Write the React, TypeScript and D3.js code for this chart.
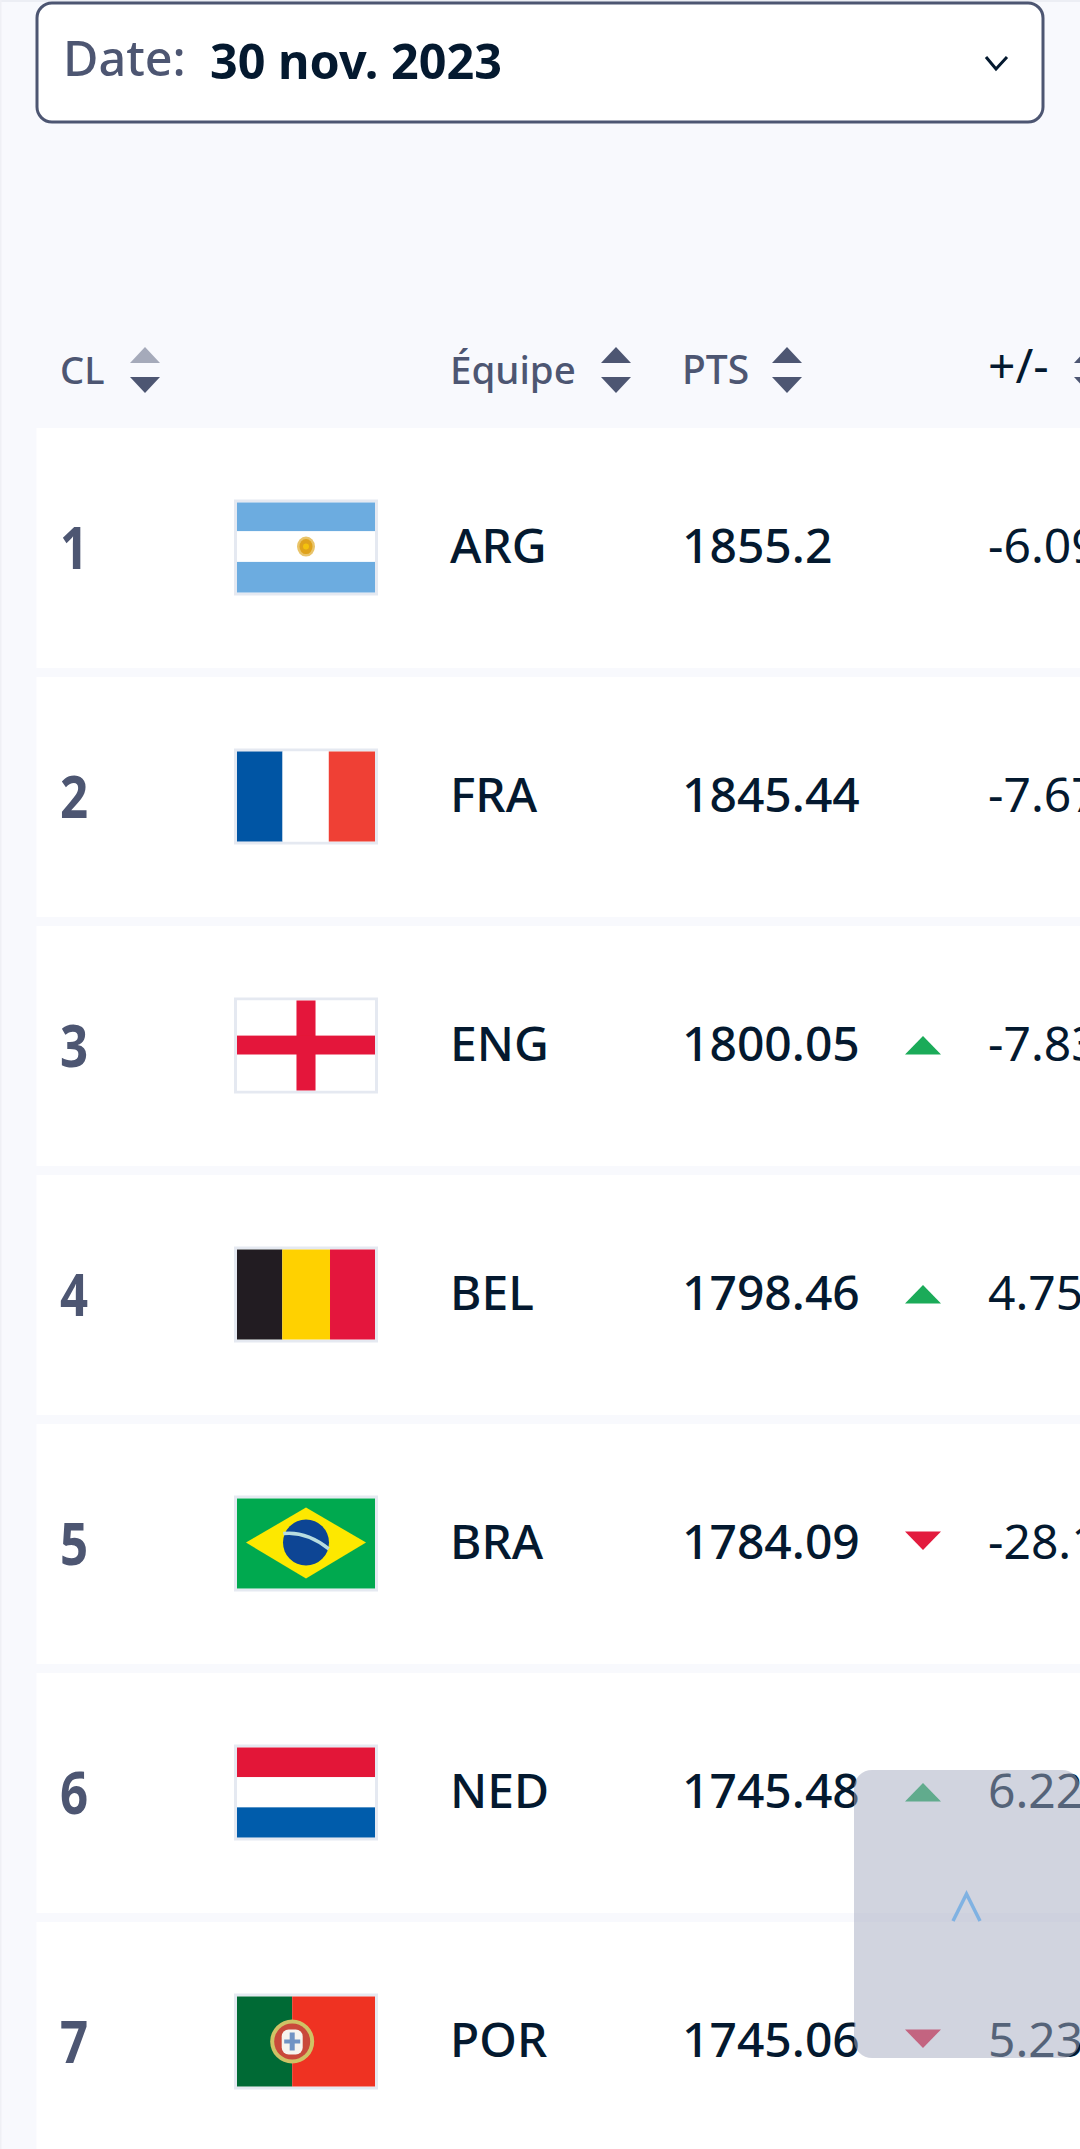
import * as d3 from 'd3';
import * as React from 'react';

const ranks = ['1', '2', '3', '4', '5', '6', '7'];
const teams = ['ARG', 'FRA', 'ENG', 'BEL', 'BRA', 'NED', 'POR'];
const points = ['1855.2', '1845.44', '1800.05', '1798.46', '1784.09', '1745.48', '1745.06'];
const trends = [0, 0, 1, 1, -1, 1, -1];
const deltas = ['-6.09', '-7.67', '-7.83', '4.75', '-28.1', '6.22', '5.23'];
const dateLabel = 'Date:';
const dateValue = '30 nov. 2023';

const WIDTH = 1080;
const HEIGHT = 2149;
const FONT = '"Noto Sans", "Open Sans", sans-serif';
const INK = '#04192f';
const SLATE = '#4d5672';
const UP = '#1bab59';
const DOWN = '#e31b3e';

const rowScale = d3
  .scaleBand<string>()
  .domain(ranks)
  .range([428, 428 + 249 * ranks.length - 9])
  .paddingInner(9 / 249)
  .paddingOuter(0)
  .align(0);

const triangle = d3.line<[number, number]>().curve(d3.curveLinearClosed);
const chevron = d3.line<[number, number]>();

const FLAG_W = 138;
const FLAG_H = 90;
const fx = d3.scaleLinear().domain([0, 1]).range([0, FLAG_W]);
const fy = d3.scaleLinear().domain([0, 1]).range([0, FLAG_H]);

const bars = (colors: string[], stops: number[]) =>
  colors.map((c, i) => (
    <rect key={i} x={fx(stops[i])} y={0} width={fx(stops[i + 1]) - fx(stops[i])} height={FLAG_H} fill={c} />
  ));

const bands = (colors: string[], stops: number[]) =>
  colors.map((c, i) => (
    <rect key={i} x={0} y={fy(stops[i])} width={FLAG_W} height={fy(stops[i + 1]) - fy(stops[i])} fill={c} />
  ));

const Flag: React.FC<{ team: string }> = ({ team }) => {
  switch (team) {
    case 'ARG':
      return (
        <g>
          {bands(['#6cace0', '#ffffff', '#6cace0'], [0, 0.32, 0.66, 1])}
          <ellipse cx={fx(0.5)} cy={fy(0.49)} rx={9} ry={10} fill="#e9c46a" />
          <ellipse cx={fx(0.5)} cy={fy(0.49)} rx={6.5} ry={7.5} fill="#dfa21c" />
          <circle cx={fx(0.5)} cy={fy(0.49)} r={3} fill="#f4c20d" />
        </g>
      );
    case 'FRA':
      return <g>{bars(['#0055a4', '#ffffff', '#ef4135'], [0, 0.33, 0.665, 1])}</g>;
    case 'ENG':
      return (
        <g>
          <rect width={FLAG_W} height={FLAG_H} fill="#ffffff" />
          <rect x={fx(0.431)} y={0} width={fx(0.138)} height={FLAG_H} fill="#e4173a" />
          <rect x={0} y={fy(0.39)} width={FLAG_W} height={fy(0.21)} fill="#e4173a" />
        </g>
      );
    case 'BEL':
      return <g>{bars(['#231f20', '#ffd100', '#e4183c'], [0, 0.328, 0.674, 1])}</g>;
    case 'BRA':
      return (
        <g>
          <rect width={FLAG_W} height={FLAG_H} fill="#04a950" />
          <polygon
            points={[
              [fx(0.065), fy(0.49)],
              [fx(0.5), fy(0.1)],
              [fx(0.935), fy(0.49)],
              [fx(0.5), fy(0.89)],
            ].join(' ')}
            fill="#fde800"
          />
          <circle cx={fx(0.5)} cy={fy(0.49)} r={23} fill="#0c4494" />
          <path
            d={`M${fx(0.335)},${fy(0.39)}Q${fx(0.5)},${fy(0.36)} ${fx(0.665)},${fy(0.56)}`}
            fill="none"
            stroke="#b8dde0"
            strokeWidth={3.5}
          />
        </g>
      );
    case 'NED':
      return <g>{bands(['#e31837', '#ffffff', '#005bab'], [0, 0.33, 0.665, 1])}</g>;
    default:
      return (
        <g>
          {bars(['#006a35', '#ef3020'], [0, 0.4, 1])}
          <circle cx={fx(0.4)} cy={fy(0.5)} r={22} fill="#cfc265" />
          <circle cx={fx(0.4)} cy={fy(0.5)} r={18} fill="#c9483a" />
          <rect x={fx(0.4) - 10.5} y={fy(0.5) - 12} width={21} height={25} rx={7} fill="#f6f4ef" />
          <rect x={fx(0.4) - 8} y={fy(0.5) - 2} width={16} height={4} fill="#6f93c4" />
          <rect x={fx(0.4) - 2.5} y={fy(0.5) - 9} width={5} height={18} fill="#6f93c4" />
        </g>
      );
  }
};

const SortIcon: React.FC<{ x: number; dimUp?: boolean }> = ({ x, dimUp }) => (
  <g>
    <path
      d={triangle([[x - 15, 363], [x + 15, 363], [x, 347]])!}
      fill={dimUp ? '#a5aaba' : SLATE}
    />
    <path d={triangle([[x - 15, 377], [x + 15, 377], [x, 393]])!} fill={SLATE} />
  </g>
);

export default function App() {
  return (
    <svg
      width={WIDTH}
      height={HEIGHT}
      viewBox={`0 0 ${WIDTH} ${HEIGHT}`}
      style={{ position: 'absolute', left: 0, top: 0, display: 'block' }}
      fontFamily={FONT}
    >
      <defs>
        <filter id="soft" x="-5%" y="-5%" width="110%" height="110%">
          <feGaussianBlur stdDeviation={0.6} />
        </filter>
      </defs>
      <rect width={WIDTH} height={HEIGHT} fill="#f8f9fd" />
      <rect width={WIDTH} height={2} fill="#eceef4" />
      <rect width={1.5} height={HEIGHT} fill="#eff0f5" />

      {/* date select */}
      <rect x={37} y={3} width={1006} height={119} rx={15} fill="#ffffff" stroke={SLATE} strokeWidth={3} />
      <text x={63} y={76} fontSize={48.5} fill={SLATE} fontWeight={500}>
        {dateLabel}
      </text>
      <text x={210} y={79} fontSize={48.5} fill={INK} fontWeight={700}>
        {dateValue}
      </text>
      <path d={chevron([[986, 57], [996, 69], [1007, 57]])!} fill="none" stroke={INK} strokeWidth={3} />

      {/* header */}
      <text x={60} y={384} fontSize={38} fontWeight={500} fill={SLATE}>CL</text>
      <SortIcon x={145} dimUp />
      <text x={450} y={384} fontSize={38.5} fontWeight={500} fill={SLATE}>Équipe</text>
      <SortIcon x={616} />
      <text x={682} y={384} fontSize={39} fontWeight={500} fill={SLATE}>PTS</text>
      <SortIcon x={787} />
      <text x={988} y={383} fontSize={48} fill={INK}>+/-</text>
      <SortIcon x={1089} />

      {/* rows */}
      {ranks.map((rank, i) => {
        const top = rowScale(rank)!;
        const cy = top + rowScale.bandwidth() / 2;
        const t = trends[i];
        return (
          <g key={rank}>
            <rect x={36.5} y={top} width={WIDTH - 36.5} height={i === ranks.length - 1 ? HEIGHT - top : rowScale.bandwidth()} fill="#ffffff" />
            <text
              transform={`translate(60,${cy + 21}) scale(0.82,1)`}
              fontSize={60}
              fontWeight={700}
              fill={SLATE}
            >
              {rank}
            </text>
            <rect x={235.5} y={cy - 47} width={141} height={93} fill="none" stroke="#e5e9f1" strokeWidth={3} />
            <g transform={`translate(237,${cy - 45.5})`} filter="url(#soft)">
              <Flag team={teams[i]} />
            </g>
            <text x={450} y={cy + 14.5} fontSize={48} fontWeight={500} fill={INK}>
              {teams[i]}
            </text>
            <text x={682} y={cy + 14.5} fontSize={48} fontWeight={500} fill={INK}>
              {points[i]}
            </text>
            {t > 0 && (
              <path d={triangle([[905, cy + 8.5], [941, cy + 8.5], [923, cy - 10]])!} fill={UP} />
            )}
            {t < 0 && (
              <path d={triangle([[905, cy - 12.5], [941, cy - 12.5], [923, cy + 6]])!} fill={DOWN} />
            )}
            <text x={988} y={cy + 14.5} fontSize={48} fill={INK}>
              {deltas[i]}
            </text>
          </g>
        );
      })}

      {/* back to top button */}
      <rect x={854} y={1770} width={226} height={288} rx={18} fill="rgb(165,170,192)" fillOpacity={0.51} />
      <path
        d={chevron([[953, 1921], [966.5, 1894], [980, 1921]])!}
        fill="none"
        stroke="#80b2e2"
        strokeWidth={3.5}
      />
    </svg>
  );
}
